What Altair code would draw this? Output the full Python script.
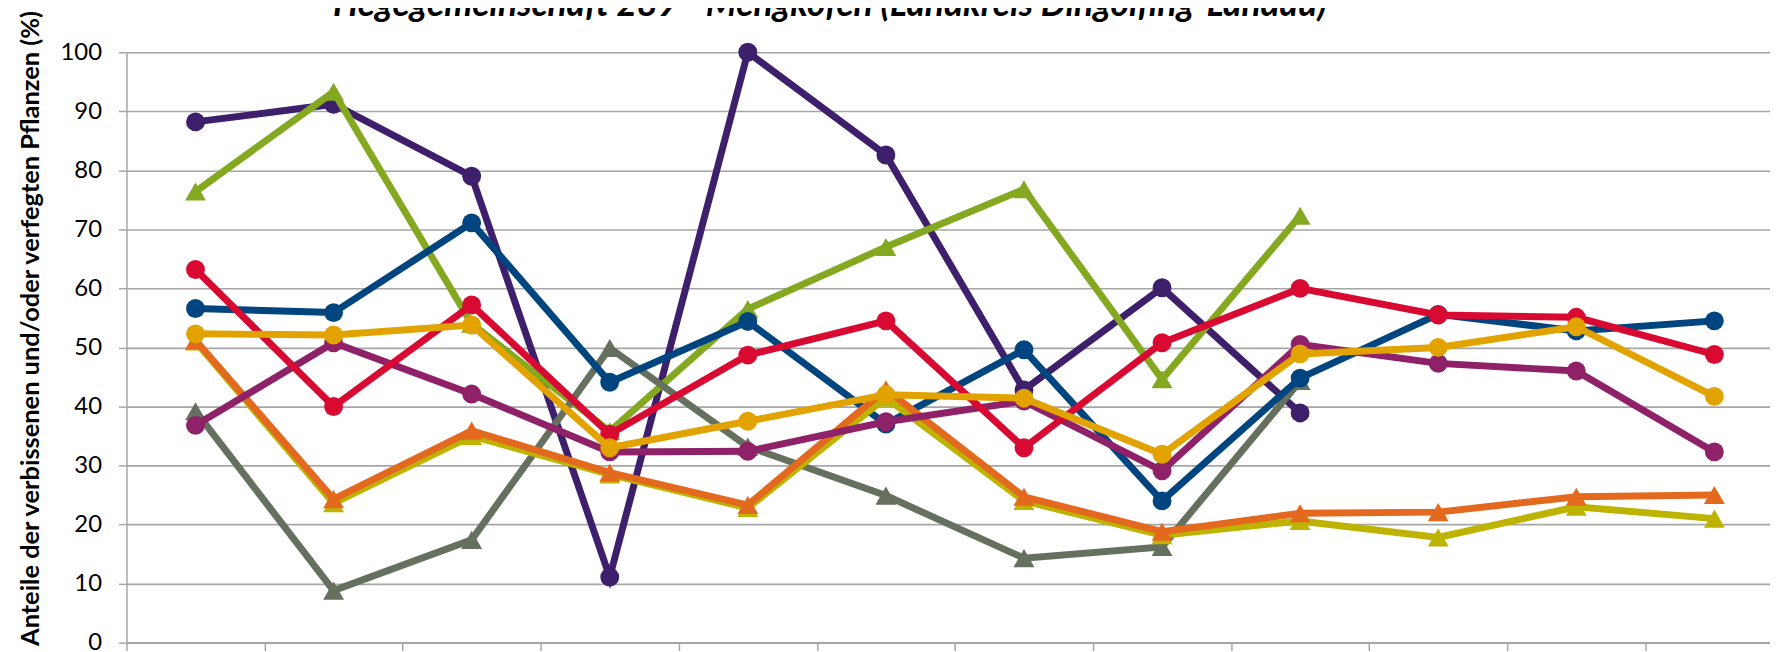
import altair as alt
import pandas as pd

# Aufnahmejahre (x-Kategorien; Beschriftungen liegen im Original außerhalb des Ausschnitts)
jahre = ["1991", "1994", "1997", "2000", "2003", "2006",
         "2009", "2012", "2015", "2018", "2021", "2024"]

# Serien in Zeichenreihenfolge (unten -> oben)
serien = ["Tanne", "Edellaubbäume Leittrieb", "Kiefer Leittrieb", "Fichte",
          "Laubholz gesamt", "Buche Leittrieb", "Buche", "Eiche", "Edellaubbäume"]
farben = ["#3E1F6C", "#84A921", "#65705E", "#00457F",
          "#BDB300", "#E3691F", "#8E2167", "#D90A32", "#E2A300"]
formen = ["circle", "triangle-up", "triangle-up", "circle",
          "triangle-up", "triangle-up", "circle", "circle", "circle"]

tanne = [88.2, 91.2, 79.0, 11.1, 100.0, 82.6, 42.8, 60.1, 38.9]
edellaub_lt = [76.4, 93.3, 54.0, 35.8, 56.5, 67.0, 76.8, 44.6, 72.3]
kiefer_lt = [39.2, 8.8, 17.4, 49.9, 33.2, 24.9, 14.3, 16.2, 44.3]
fichte = [56.6, 55.9, 71.1, 44.1, 54.4, 37.0, 49.6, 24.0, 44.8, 55.6, 52.8, 54.5]
laubholz = [51.0, 23.6, 35.0, 28.5, 22.8, 41.5, 24.0, 18.2, 20.6, 17.8, 23.0, 21.0]
buche_lt = [51.2, 24.3, 35.9, 28.8, 23.3, 42.9, 24.7, 18.8, 21.9, 22.1, 24.7, 25.0]
buche = [36.8, 50.8, 42.1, 32.3, 32.4, 37.4, 40.9, 29.1, 50.5, 47.3, 46.0, 32.3]
eiche = [63.2, 40.0, 57.2, 35.3, 48.7, 54.5, 33.0, 50.8, 60.0, 55.5, 55.1, 48.8]
edellaub = [52.3, 52.1, 53.8, 33.0, 37.5, 42.0, 41.4, 31.9, 48.9, 50.0, 53.5, 41.7]

werte = [tanne, edellaub_lt, kiefer_lt, fichte, laubholz, buche_lt, buche, eiche, edellaub]

rows = []
for name, reihe in zip(serien, werte):
    for i, v in enumerate(reihe):
        rows.append({"Jahr": jahre[i], "Nr": i, "Serie": name, "Wert": v})
df = pd.DataFrame(rows)

FONT = "Lato"
GRID = "#A6A6A6"

xscale = alt.Scale(domain=[-0.5, 11.403], nice=False, zero=False)
yscale = alt.Scale(domain=[0, 100], nice=False)
cscale = alt.Scale(domain=serien, range=farben)

xaxis = alt.Axis(values=[i - 0.5 for i in range(len(jahre))], labels=False, title=None,
                 grid=False, tickSize=8, tickColor=GRID, tickWidth=1.5,
                 domainColor=GRID, domainWidth=2)
yaxis = alt.Axis(values=list(range(0, 101, 10)),
                 title="Anteile der verbissenen und/oder verfegten Pflanzen (%)",
                 titleFont=FONT, titleFontSize=25.5, titleFontWeight="bold", titleColor="black",
                 titleX=-96, titleY=277, titleAlign="center", titleBaseline="middle",
                 labelFont=FONT, labelFontSize=24, labelColor="black", labelPadding=17,
                 tickSize=8, tickColor=GRID, tickWidth=1.5,
                 domainColor=GRID, domainWidth=1.5,
                 grid=True, gridColor=GRID, gridWidth=1.6)

layers = []
for name, form in zip(serien, formen):
    base = alt.Chart(df).transform_filter(alt.datum.Serie == name)
    enc = dict(
        x=alt.X("Nr:Q", scale=xscale, axis=xaxis),
        y=alt.Y("Wert:Q", scale=yscale, axis=yaxis),
        color=alt.Color("Serie:N", scale=cscale, legend=None),
    )
    layers.append(base.mark_line(strokeWidth=7).encode(**enc))
    layers.append(base.mark_point(filled=True, opacity=1, shape=form,
                                  size=360 if form == "circle" else 440).encode(**enc))

chart = alt.layer(*layers).properties(
    width=1651,
    height=593,
    autosize=alt.AutoSizeParams(type="none"),
    padding={"left": 119, "top": 43, "right": 0, "bottom": 8},
    background="white",
    title=alt.TitleParams(
        text="Hegegemeinschaft 289 - Mengkofen (Landkreis Dingolfing-Landau)",
        font=FONT, fontSize=35.5, fontWeight="bold", fontStyle="italic", color="black",
        anchor="middle", frame="group", orient="top", offset=0,
        baseline="alphabetic", dx=-119, dy=42,
    ),
).configure_view(stroke=None)

chart.save("out.html", embed_options={"renderer": "svg", "actions": False})
